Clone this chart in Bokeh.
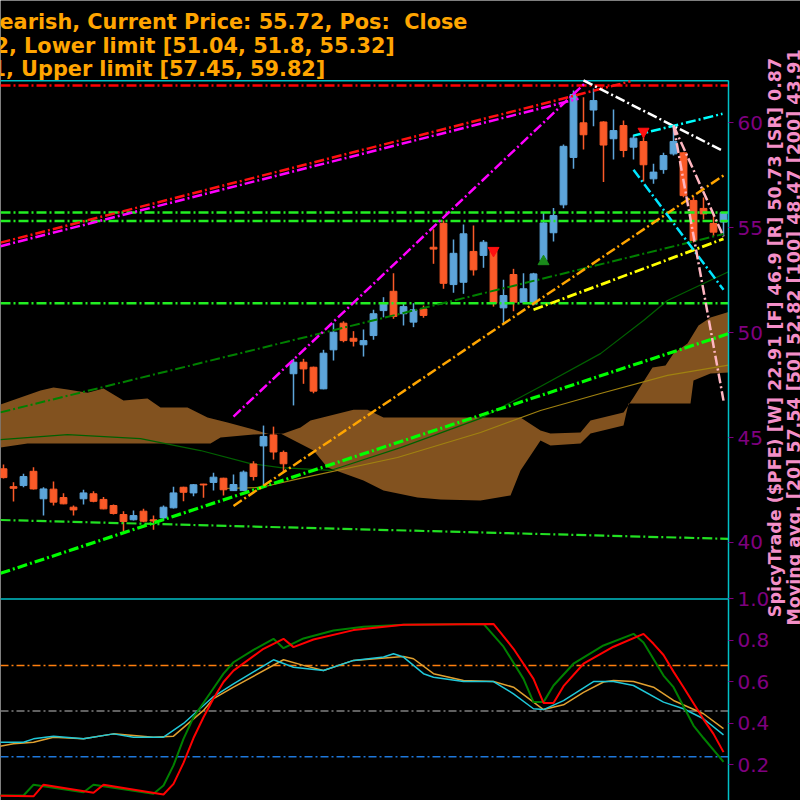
from math import pi
from bokeh.plotting import figure
from bokeh.models import Range1d, LinearAxis, FixedTicker, Label
from bokeh.embed import file_html
from bokeh.resources import INLINE

# ---------------- data ----------------
opens = [43.51, 42.66, 42.71, 43.39, 42.08, 42.54, 42.14, 41.68, 42.08, 42.32,
         42.05, 41.76, 41.33, 41.08, 41.49, 41.08, 41.17, 41.65, 42.63, 42.36,
         42.78, 42.86, 43.06, 42.47, 42.47, 43.74, 44.60, 45.12, 44.29, 48.04,
         48.59, 48.35, 47.32, 49.18, 50.45, 49.73, 49.42, 49.86, 51.05, 51.97,
         50.90, 50.50, 51.13, 54.07, 55.21, 52.29, 52.40, 53.87, 53.68, 53.95,
         51.18, 52.77, 51.45, 51.37, 53.44, 54.76, 56.09, 58.35, 60.00, 60.61,
         60.04, 59.24, 59.87, 58.84, 59.11, 57.33, 57.77, 58.52, 58.57, 56.30,
         55.92, 55.20, 55.27]
highs = [43.71, 42.87, 43.27, 43.58, 42.63, 42.90, 42.35, 41.76, 42.51, 42.44,
         42.16, 41.81, 41.49, 41.52, 41.60, 41.28, 41.76, 42.66, 42.66, 42.78,
         42.80, 43.32, 43.08, 43.24, 43.43, 43.87, 45.57, 45.52, 44.38, 48.75,
         48.75, 48.38, 49.18, 50.45, 50.54, 50.07, 50.15, 51.09, 51.69, 52.83,
         51.45, 51.40, 51.29, 54.93, 55.34, 54.44, 55.15, 55.10, 54.42, 53.97,
         52.52, 53.04, 52.83, 52.85, 55.74, 55.94, 58.97, 61.54, 61.22, 61.63,
         60.08, 60.63, 60.11, 59.43, 59.63, 58.05, 58.57, 59.87, 58.60, 56.45,
         56.44, 55.66, 55.74]
lows = [43.05, 41.95, 42.63, 42.52, 41.28, 41.76, 41.82, 41.28, 41.81, 41.92,
        41.58, 41.33, 40.53, 41.05, 40.96, 40.60, 41.04, 41.62, 41.96, 42.20,
        42.13, 42.47, 42.24, 42.45, 42.45, 42.95, 42.71, 43.95, 43.35, 46.53,
        47.56, 47.11, 47.30, 48.67, 49.54, 49.34, 48.86, 49.66, 50.73, 50.66,
        50.34, 50.26, 50.71, 53.28, 52.09, 51.90, 51.85, 52.72, 53.09, 51.24,
        50.45, 51.02, 51.42, 51.30, 53.40, 54.34, 55.93, 57.81, 58.73, 59.84,
        57.18, 58.25, 58.36, 58.25, 57.20, 57.09, 57.57, 58.44, 56.45, 54.30,
        55.39, 54.60, 54.63]
closes = [43.09, 42.58, 43.14, 42.55, 42.55, 41.92, 41.84, 41.55, 42.36, 41.96,
          41.60, 41.38, 41.00, 41.28, 41.01, 41.02, 41.68, 42.36, 42.39, 42.75,
          42.74, 43.11, 42.51, 42.76, 43.35, 43.14, 45.05, 44.31, 43.75, 48.59,
          48.27, 47.21, 49.02, 50.02, 49.62, 49.59, 49.62, 50.90, 51.37, 50.77,
          51.24, 51.09, 50.82, 53.98, 52.35, 53.78, 54.71, 52.99, 54.31, 51.40,
          51.77, 51.45, 52.09, 52.80, 55.23, 55.58, 58.88, 61.35, 59.43, 61.06,
          58.94, 59.63, 58.68, 59.27, 58.00, 57.65, 58.44, 59.11, 56.53, 54.39,
          55.66, 54.79, 55.72]

# moving averages (vertices: candle index, price)
ma50_idx = [-0.3, 6.4, 13.7, 19.7, 24.7, 27.7, 32.7, 39.7, 47.7, 53.7, 59.7, 64, 66.4, 72.5]
ma50_val = [44.90, 45.14, 44.95, 44.38, 43.76, 43.57, 43.43, 44.52, 45.91, 47.43, 49.00, 50.58, 51.53, 52.90]
ma100_idx = [22, 25.7, 29.7, 39.4, 47.7, 53.7, 59.7, 66.4, 72.5]
ma100_val = [42.57, 42.62, 43.05, 44.05, 45.24, 46.29, 47.10, 47.96, 48.45]

# cloud
cloud_top_idx = [-0.3, 3.7, 5, 6.4, 8.4, 10, 12, 14.4, 15.7, 18.4, 20.4, 22.4, 25, 26.7, 28,
                 29.7, 30.7, 35, 36.4, 38, 51.7, 53.7, 54.7, 57.7, 58.7, 62, 63, 64.9,
                 66.2, 67, 68.4, 69.5, 70.7, 72.5]
cloud_top = [46.57, 47.24, 47.38, 47.29, 47.14, 47.34, 46.76, 46.86, 46.43, 46.43, 45.95,
             45.72, 45.38, 45.14, 45.19, 45.48, 45.81, 46.33, 46.33, 45.95, 45.95, 45.33,
             45.19, 45.24, 45.81, 46.19, 46.91, 48.34, 48.43, 49.00, 49.48, 50.34, 50.72,
             50.98]
cloud_bot_idx = [-0.3, 2.4, 20.7, 21.7, 25, 27.7, 31, 32.4, 36, 38, 41.4, 43.7, 47.7, 50.7,
                 51.7, 53.7, 54.7, 57.7, 58.7, 62, 62.5, 68.7, 69, 70.7, 72.5]
cloud_bot = [44.52, 44.71, 44.71, 45.00, 45.14, 45.19, 44.38, 43.57, 42.95, 42.47, 42.14,
             42.05, 42.00, 42.24, 43.43, 44.86, 44.62, 44.71, 45.19, 45.57, 46.62, 46.62,
             47.72, 48.05, 48.10]

# horizontal levels
resistance_level = 61.78
level_prices = [55.72, 55.32, 51.40]

# trend lines: (start index, start price, end index, end price)
trend_lines = {
    "red_up":      (-0.3, 54.29, 62.7, 61.98),
    "magenta_up":  (-0.3, 54.12, 57.5, 61.15),
    "magenta_steep": (23.0, 46.00, 58.4, 62.00),
    "white_down":  (58.0, 62.02, 72.0, 58.65),
    "cyan_up":     (63.0, 59.39, 71.9, 60.43),
    "cyan_down":   (63.0, 57.76, 72.0, 52.04),
    "pink_a":      (67.0, 59.87, 72.0, 54.58),
    "pink_b":      (67.0, 59.87, 72.0, 46.76),
    "orange_up":   (23.0, 41.74, 72.0, 57.49),
    "yellow_up":   (53.0, 51.09, 72.0, 54.47),
    "dkgreen_up":  (-0.3, 46.20, 72.0, 54.70),
    "lime_up":     (-0.3, 38.53, 72.5, 49.95),
    "lime_down":   (-0.3, 41.07, 72.5, 40.17),
}

# signals
sell_idx = [49, 64]
sell_val = [53.91, 59.59]
buy_idx = [54]
buy_val = [53.39]

# oscillator panel
green_idx = [-1, 2, 3, 8, 9, 15, 16, 17, 18, 19, 20, 21, 22, 23, 25, 27, 28, 30, 33, 36, 40, 48,
             50, 52, 53, 54, 55, 57, 60, 63, 64, 66, 67, 69, 70, 72]
green_val = [0.053, 0.053, 0.105, 0.069, 0.105, 0.061, 0.101, 0.198, 0.326, 0.43, 0.50, 0.57,
             0.64, 0.695, 0.755, 0.808, 0.763, 0.810, 0.848, 0.866, 0.876, 0.880,
             0.770, 0.615, 0.503, 0.503, 0.583, 0.688, 0.776, 0.832, 0.79, 0.631, 0.575,
             0.39, 0.33, 0.215]
red_idx = [-1, 3, 4, 9, 10, 16, 17, 18, 19, 20, 21, 22, 23, 26, 28, 29, 31, 35, 40, 49,
           51, 53, 54, 55, 56, 58, 61, 64, 65, 66, 67, 68, 70, 71, 72]
red_val = [0.053, 0.049, 0.105, 0.066, 0.105, 0.058, 0.109, 0.21, 0.33, 0.43, 0.52, 0.60,
           0.655, 0.76, 0.808, 0.768, 0.805, 0.850, 0.876, 0.880,
           0.76, 0.615, 0.499, 0.499, 0.58, 0.688, 0.77, 0.832, 0.784, 0.73, 0.65, 0.575,
           0.42, 0.35, 0.262]
cyan_idx = [-1, 2, 3, 5, 8, 11, 13, 16, 18, 20, 21, 23, 27, 29, 32, 35, 38, 39, 40, 42, 43,
            46, 49, 51, 53, 54, 56, 59, 61, 63, 66, 68, 70, 72]
cyan_val = [0.310, 0.310, 0.326, 0.339, 0.326, 0.350, 0.334, 0.334, 0.40, 0.487, 0.53, 0.591,
            0.707, 0.671, 0.655, 0.704, 0.720, 0.736, 0.720, 0.640, 0.623, 0.602, 0.602,
            0.543, 0.471, 0.467, 0.51, 0.602, 0.602, 0.583, 0.503, 0.471, 0.423, 0.345]
orange_idx = [-1, 1, 3, 5, 8, 11, 15, 17, 20, 21, 23, 28, 30, 32, 35, 40, 41, 43, 46, 49, 51,
              53, 54, 56, 58, 60, 61, 63, 65, 67, 70, 72]
orange_val = [0.285, 0.302, 0.310, 0.334, 0.326, 0.350, 0.334, 0.339, 0.463, 0.52, 0.575,
              0.707, 0.680, 0.655, 0.704, 0.723, 0.712, 0.640, 0.607, 0.602, 0.575, 0.503,
              0.467, 0.49, 0.55, 0.60, 0.607, 0.602, 0.575, 0.511, 0.447, 0.375]
osc_levels = [0.68, 0.46, 0.24]
osc_level_colors = ["#ff7f0e", "#808080", "#1e78dc"]

price_ticks = [40, 45, 50, 55, 60]
osc_ticks = [0.2, 0.4, 0.6, 0.8, 1.0]

title_lines = ["earish, Current Price: 55.72, Pos:\u00a0 Close",
               "2, Lower limit [51.04, 51.8, 55.32]",
               "1, Upper limit [57.45, 59.82]"]
side_lines = ["SpicyTrade ($PFE) [W] 22.91 [F] 46.9 [R] 50.73 [SR] 0.87",
              "Moving avg. [20] 57.54 [50] 52.82 [100] 48.47 [200] 43.91"]

# ---------------- layout constants ----------------
X_LEFT, X_PANEL_END, X_RIGHT = -0.3, 72.5, 79.7     # candle-index units (10 px each)
PRICE_BOTTOM, PRICE_PANEL_TOP, PRICE_CANVAS_TOP = 27.70, 62.02, 65.83
OSC_BOTTOM, OSC_TOP = 0.0289, 3.884
BORDER = "#00c0c8"
TICKC = "#800080"
TEXT_FONT = "DejaVu Sans"

p = figure(width=800, height=800, output_backend="svg", toolbar_location=None,
           x_range=Range1d(X_LEFT, X_RIGHT), y_range=Range1d(PRICE_BOTTOM, PRICE_CANVAS_TOP),
           min_border=0, min_border_left=0, min_border_right=0,
           min_border_top=0, min_border_bottom=0,
           background_fill_color="black", border_fill_color="black",
           outline_line_color=None, x_axis_location=None, y_axis_location=None)
p.extra_y_ranges = {"osc": Range1d(OSC_BOTTOM, OSC_TOP)}
p.grid.visible = False


def osc_pos(v):
    return PRICE_BOTTOM + (v - OSC_BOTTOM) * (PRICE_CANVAS_TOP - PRICE_BOTTOM) / (OSC_TOP - OSC_BOTTOM)


ticks = [float(t) for t in price_ticks] + [osc_pos(v) for v in osc_ticks]
overrides = {float(t): str(t) for t in price_ticks}
for v in osc_ticks:
    overrides[osc_pos(v)] = f"{v:.1f}"

ax = LinearAxis(fixed_location=X_PANEL_END, bounds=(PRICE_BOTTOM, PRICE_PANEL_TOP),
                ticker=FixedTicker(ticks=ticks), major_label_overrides=overrides,
                axis_line_color=BORDER, axis_line_width=1.5,
                major_tick_line_color=TICKC, major_tick_out=5, major_tick_in=0,
                minor_tick_line_color=None, major_label_text_color=TICKC,
                major_label_text_font_size="20px", major_label_text_font=TEXT_FONT,
                major_label_standoff=4)
p.add_layout(ax, "right")

# panel borders
p.segment(x0=[X_LEFT], y0=[PRICE_PANEL_TOP - 0.02], x1=[X_PANEL_END], y1=[PRICE_PANEL_TOP - 0.02],
          line_color=BORDER, line_width=1.5)
p.segment(x0=[X_LEFT], y0=[1.0], x1=[X_PANEL_END], y1=[1.0], y_range_name="osc",
          line_color=BORDER, line_width=1.5)

# cloud
p.patch(cloud_top_idx + cloud_bot_idx[::-1], cloud_top + cloud_bot[::-1],
        fill_color="#82521f", line_color=None)

# moving averages
p.line(ma50_idx, ma50_val, line_color="#006000", line_width=1.2)
p.line(ma100_idx, ma100_val, line_color="#a08210", line_width=1.2)

# candles
idx = list(range(len(closes)))
UPC, DNC = "#5da5da", "#fa5a28"
colors = [UPC if c >= o else DNC for o, c in zip(opens, closes)]
p.segment(x0=idx, y0=lows, x1=idx, y1=highs, line_color=colors, line_width=1.5)
p.vbar(x=idx, width=0.68, top=[max(o, c) for o, c in zip(opens, closes)],
       bottom=[min(o, c) for o, c in zip(opens, closes)], fill_color=colors, line_color=colors)

# horizontal levels
DD = "10 3 2 3"
p.segment(x0=[X_LEFT], y0=[resistance_level], x1=[X_PANEL_END], y1=[resistance_level],
          line_color="#ff0000", line_width=2.5, line_dash=DD)
p.segment(x0=[X_LEFT] * len(level_prices), y0=level_prices,
          x1=[X_PANEL_END] * len(level_prices), y1=level_prices,
          line_color="#22ee22", line_width=2.5, line_dash=DD)

styles = {
    "magenta_up": ("#ff00ff", 2.5),
    "red_up": ("#ff1010", 2.5),
    "magenta_steep": ("#ff00ff", 2.5),
    "white_down": ("#ffffff", 2.5),
    "cyan_up": ("#00ffff", 2.5),
    "cyan_down": ("#00e5ff", 2.5),
    "pink_a": ("#ffb6c1", 2.5),
    "pink_b": ("#ffb6c1", 2.5),
    "orange_up": ("#ffa500", 2.5),
    "yellow_up": ("#ffff00", 2.8),
    "dkgreen_up": ("#008000", 2.0),
    "lime_up": ("#00ff00", 3.2),
    "lime_down": ("#22e022", 2.2),
}
for name in ["dkgreen_up", "lime_down", "lime_up", "magenta_up", "red_up", "magenta_steep",
             "orange_up", "yellow_up", "white_down", "cyan_up", "cyan_down", "pink_a", "pink_b"]:
    x0, y0, x1, y1 = trend_lines[name]
    col, lw = styles[name]
    p.line([x0, x1], [y0, y1], line_color=col, line_width=lw, line_dash=DD)

# signals
p.scatter(sell_idx, sell_val, marker="inverted_triangle", size=11, fill_color="#ff1010", line_color="#ff1010")
p.scatter(buy_idx, buy_val, marker="triangle", size=11, fill_color="#1a8a1a", line_color="#1a8a1a")

# oscillator panel
n_lv = len(osc_levels)
p.segment(x0=[X_LEFT] * n_lv, y0=osc_levels, x1=[X_PANEL_END] * n_lv, y1=osc_levels,
          y_range_name="osc", line_color=osc_level_colors, line_width=1.5, line_dash="8 3 2 3")
p.line(orange_idx, orange_val, y_range_name="osc", line_color="#e0a030", line_width=1.5)
p.line(cyan_idx, cyan_val, y_range_name="osc", line_color="#20c8d8", line_width=1.5)
p.line(green_idx, green_val, y_range_name="osc", line_color="#008000", line_width=2)
p.line(red_idx, red_val, y_range_name="osc", line_color="#ff0000", line_width=2)

# texts (screen units inside the full-canvas frame)
for txt, xx, yy in zip(title_lines, [-1, -6, -9], [778.3, 755.0, 731.7]):
    p.add_layout(Label(x=xx, y=yy, x_units="screen", y_units="screen", text=txt,
                       text_color="#ffa500", text_font=TEXT_FONT, text_font_size="20.8px",
                       text_font_style="bold", text_align="left", text_baseline="alphabetic"))
for txt, xx in zip(side_lines, [774, 793]):
    p.add_layout(Label(x=xx, y=463, x_units="screen", y_units="screen", text=txt, angle=pi / 2,
                       text_color="#f48fc8", text_font=TEXT_FONT, text_font_size="17.5px",
                       text_font_style="bold", text_align="center", text_baseline="alphabetic"))

open("out.html", "w").write(file_html(p, INLINE))
